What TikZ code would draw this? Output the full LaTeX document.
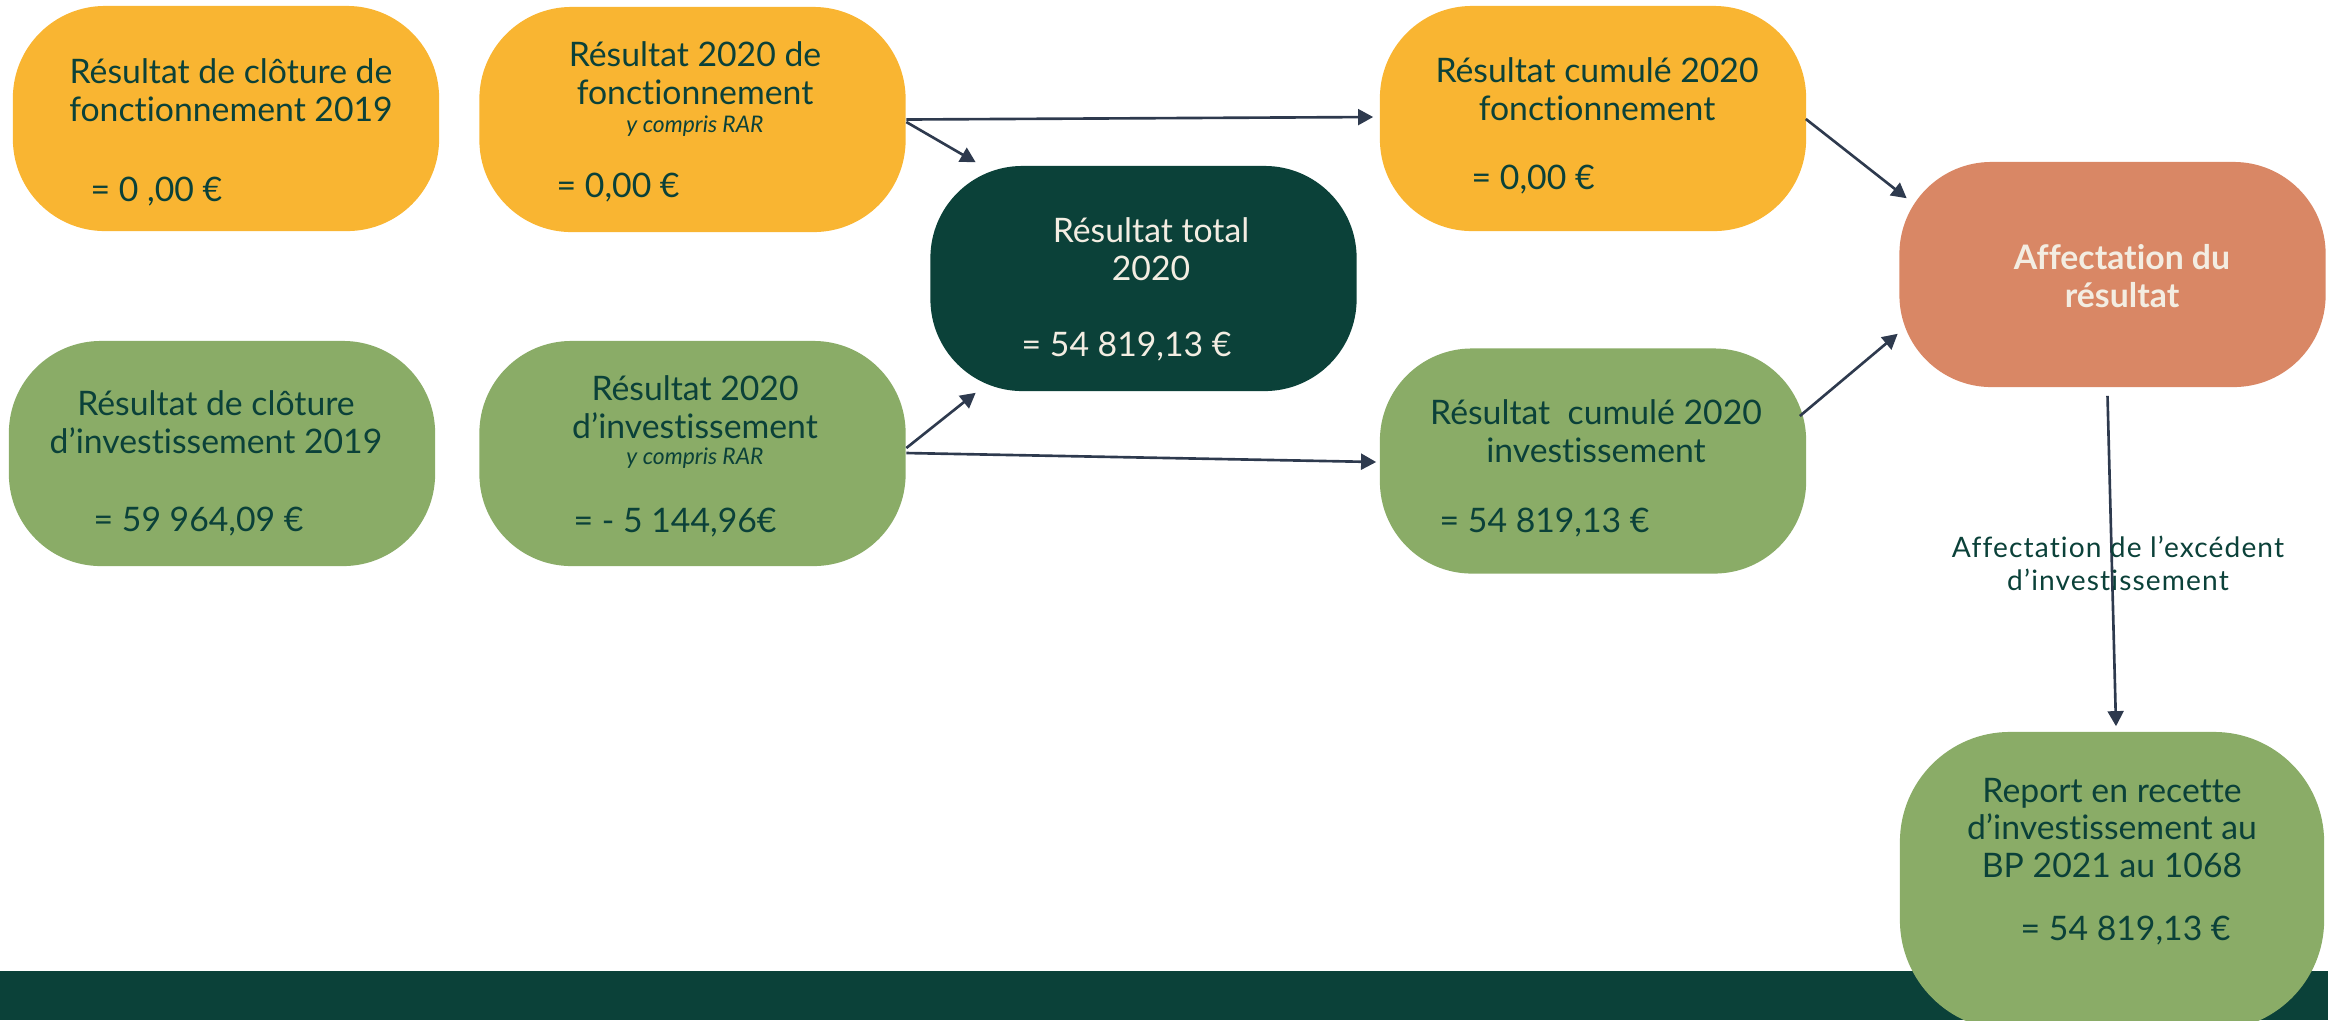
\documentclass[tikz,border=0pt]{standalone}
\usepackage{fontspec}
\setmainfont[Ligatures={NoCommon}]{Lato}
\usetikzlibrary{arrows.meta}
\definecolor{orangebox}{HTML}{F9B532}
\definecolor{greenbox}{HTML}{8AAC67}
\definecolor{darkbox}{HTML}{0B4139}
\definecolor{salmonbox}{HTML}{D98765}
\definecolor{darktext}{HTML}{0B4139}
\definecolor{lighttext}{HTML}{F3EDE2}
\definecolor{arrowcol}{HTML}{2E3A4E}
\begin{document}
\begin{tikzpicture}[x=0.01cm,y=-0.01cm,
  box/.style={rounded corners=0.92cm, minimum width=4.26cm, minimum height=2.25cm, inner sep=0pt},
  obox/.style={box, fill=orangebox},
  gbox/.style={box, fill=greenbox},
  dbox/.style={box, fill=darkbox},
  sbox/.style={box, fill=salmonbox},
  ttl/.style={align=center, text=darktext, font=\fontsize{9.6}{10.8}\selectfont, inner sep=0pt},
  lttl/.style={ttl, text=lighttext},
  val/.style={anchor=west, text=darktext, font=\fontsize{9.6}{10.8}\selectfont, inner sep=0pt},
  rar/.style={text=darktext, font=\fontsize{6.5}{7.5}\selectfont\itshape, inner sep=0pt},
  conn/.style={draw=arrowcol, line width=0.75pt, -{Triangle[length=4.3pt,width=4.5pt]}},
  lbl/.style={align=center, text=darktext, font=\fontsize{8}{9.4}\selectfont\addfontfeatures{LetterSpace=4}, inner sep=0pt}
]
\useasboundingbox (0,0) rectangle (2328,1020);
\fill[darkbox] (0,971) rectangle (2328,1020);

% boxes
\node[obox] (A) at (226,118.5) {};
\node[obox] (B) at (692.5,119.5) {};
\node[dbox] (C) at (1143.5,278.5) {};
\node[obox] (D) at (1593,118.5) {};
\node[sbox] (E) at (2112.5,274.5) {};
\node[gbox] (F) at (222,453.5) {};
\node[gbox] (G) at (692.5,453.5) {};
\node[gbox] (H) at (1593,461) {};
\node[gbox, rounded corners=1.1cm, minimum width=4.24cm, minimum height=2.98cm] (I) at (2112,881) {};

% texts
\node[ttl] (At) at (231,90) {Résultat de clôture de\\fonctionnement 2019};
\node[val] (Av) at (90,192) {= 0 ,00 €};
\node[ttl] (Bt) at (695,73) {Résultat 2020 de\\fonctionnement};
\node[rar] (Br) at (695,126) {y compris RAR};
\node[val] (Bv) at (556,188) {= 0,00 €};
\node[lttl] (Ct) at (1151,249) {Résultat total\\2020};
\node[val, text=lighttext] (Cv) at (1021,347) {= 54 819,13 €};
\node[ttl] (Dt) at (1597,89) {Résultat cumulé 2020\\fonctionnement};
\node[val] (Dv) at (1471,180) {= 0,00 €};
\node[lttl, font=\fontsize{9.6}{10.8}\selectfont\bfseries] (Et) at (2122,276) {Affectation du\\résultat};
\node[ttl] (Ft) at (216,422.5) {Résultat de clôture\\d’investissement 2019};
\node[val] (Fv) at (93,522) {= 59 964,09 €};
\node[ttl] (Gt) at (695,407.5) {Résultat 2020\\d’investissement};
\node[rar] (Gr) at (695,458) {y compris RAR};
\node[val] (Gv) at (573,523) {= - 5 144,96€};
\node[ttl] (Ht) at (1596,431) {Résultat\ \ cumulé 2020\\investissement};
\node[val] (Hv) at (1439,523) {= 54 819,13 €};
\node[ttl] (It) at (2112,828) {Report en recette\\d’investissement au\\BP 2021 au 1068};
\node[val] (Iv) at (2020,931) {= 54 819,13 €};

% connectors
\draw[conn] (B.east) -- ([shift={(-6,-1.5)}]D.west);
\draw[conn] ([shift={(0,2.5)}]B.east) -- ([shift={(46,-3)}]C.north west);
\draw[conn] ([shift={(0,-5.5)}]G.east) -- ([shift={(46,1)}]C.south west);
\draw[conn] ([shift={(0,-0.5)}]G.east) -- ([shift={(-3,1)}]H.west);
\draw[conn] ([shift={(-1,0.5)}]D.east) -- ([shift={(8,37)}]E.north west);
\draw[conn] ([shift={(-7,-45)}]H.east) -- ([shift={(-1,-54)}]E.south west);
\draw[conn] ([shift={(-5,8)}]E.south) -- ([shift={(4,-5)}]I.north);
\node[lbl] (L) at (2118,563) {Affectation de l’excédent\\d’investissement};
\end{tikzpicture}
\end{document}
